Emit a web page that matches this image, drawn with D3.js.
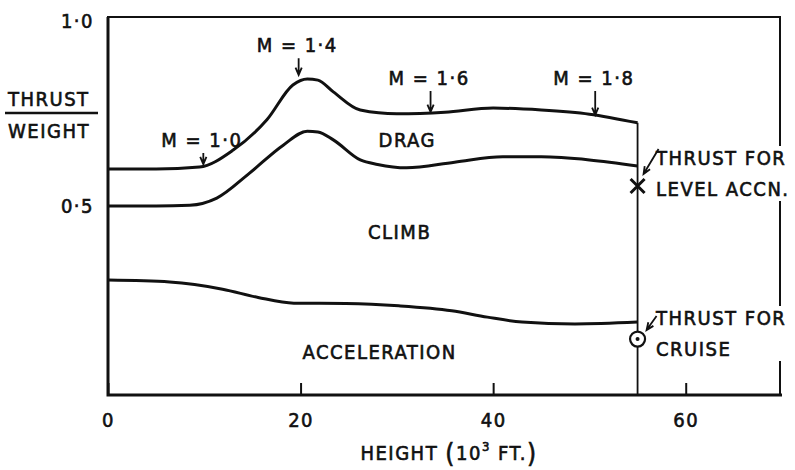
<!DOCTYPE html>
<html>
<head>
<meta charset="utf-8">
<script src="https://cdn.jsdelivr.net/npm/d3@7"></script>
<style>
  body { margin: 0; background: #fff; }
  .lbl { font-family: "DejaVu Sans Condensed", "DejaVu Sans", sans-serif; font-size: 20px; letter-spacing: 1.5px; fill: #111; stroke: #111; stroke-width: 0.6px; }
</style>
</head>
<body>
<svg id="chart"></svg>
<script>
// data (height in 10^3 ft, thrust/weight)
let dragH = [0, 5, 9.5, 13, 16.5, 19.2, 20.7, 21.8, 23.4, 26.2, 30, 35, 40, 45, 50, 55]
let dragT = [0.598, 0.598, 0.603, 0.648, 0.728, 0.820, 0.836, 0.833, 0.802, 0.754, 0.744, 0.748, 0.759, 0.754, 0.743, 0.720]

let climbH = [0, 5, 8.5, 11.3, 14.7, 18.2, 20.7, 21.8, 23.4, 26.2, 28, 31, 36, 41, 45, 50, 55]
let climbT = [0.500, 0.500, 0.502, 0.521, 0.587, 0.661, 0.698, 0.696, 0.675, 0.622, 0.610, 0.601, 0.616, 0.630, 0.630, 0.622, 0.606]

let accelH = [0, 6.4, 11.9, 15.6, 19.3, 24.7, 30.2, 35.7, 39.4, 43, 48.5, 55]
let accelT = [0.304, 0.299, 0.280, 0.258, 0.243, 0.242, 0.236, 0.223, 0.206, 0.193, 0.188, 0.193]

let machLabels = ['M = 1·0', 'M = 1·4', 'M = 1·6', 'M = 1·8']
let machH = [9.9, 19.8, 33.5, 50.6]
let machTip = [0.608, 0.844, 0.746, 0.738]
let machTextT = [0.656, 0.907, 0.820, 0.820]

let xTicks = [0, 20, 40, 60]
let yTicks = [0.5, 1.0]
let regionLabels = ['DRAG', 'CLIMB', 'ACCELERATION']
let regionH = [28.1, 27.0, 20.2]
let regionT = [0.656, 0.413, 0.095]

let ceilingH = 55
let levelAccnT = 0.553
let cruiseT = 0.148

let width = 795
let height = 470

let svg = d3.select('#chart').attr('width', width).attr('height', height)

let xScale = d3.scaleLinear().domain([0, 70]).range([108, 782])
let yScale = d3.scaleLinear().domain([0, 1]).range([395, 17])

let ink = '#111'

// frame
svg.append('rect')
  .attr('x', xScale(0)).attr('y', yScale(1))
  .attr('width', xScale(70) - xScale(0) - 2).attr('height', yScale(0) - yScale(1))
  .attr('fill', 'none').attr('stroke', ink).attr('stroke-width', 2)
svg.append('path')
  .attr('d', `M${xScale(0)},${yScale(1)}V${yScale(0)}H${xScale(70)}`)
  .attr('fill', 'none').attr('stroke', ink).attr('stroke-width', 3)

// axes
let xAxis = d3.axisBottom(xScale).tickValues(xTicks).tickSize(-12).tickPadding(18).tickFormat(d3.format('d'))
let gx = svg.append('g').attr('transform', 'translate(0,' + yScale(0) + ')').call(xAxis)
gx.select('.domain').remove()
gx.selectAll('line').attr('stroke', ink).attr('stroke-width', 2)
gx.selectAll('text').attr('class', 'lbl').attr('font-size', null).attr('font-family', null)

let yAxis = d3.axisLeft(yScale).tickValues(yTicks).tickSize(0).tickPadding(14)
  .tickFormat((d) => d3.format('.1f')(d).replace('.', '·'))
let gy = svg.append('g').attr('transform', 'translate(' + xScale(0) + ',0)').call(yAxis)
gy.select('.domain').remove()
gy.selectAll('text').attr('class', 'lbl').attr('font-size', null).attr('font-family', null)
gy.selectAll('.tick').filter((d) => d == 1).select('text').attr('dy', '0.5em')

// y title
svg.append('text').attr('class', 'lbl').attr('x', 8).attr('y', 106).text('THRUST')
svg.append('line').attr('x1', 5).attr('x2', 98).attr('y1', 113).attr('y2', 113)
  .attr('stroke', ink).attr('stroke-width', 2.5)
svg.append('text').attr('class', 'lbl').attr('x', 8).attr('y', 138).text('WEIGHT')

// x title
let xt = svg.append('text').attr('class', 'lbl').attr('x', 449).attr('y', 460).attr('text-anchor', 'middle')
xt.append('tspan').text('HEIGHT ')
xt.append('tspan').attr('font-size', 26).attr('dy', 2).text('(')
xt.append('tspan').attr('dy', -2).text('10')
xt.append('tspan').attr('font-size', 13).attr('dy', -9).text('3')
xt.append('tspan').attr('dy', 9).text(' FT.')
xt.append('tspan').attr('font-size', 26).attr('dy', 2).text(')')

// curves
let line = d3.line().curve(d3.curveMonotoneX)
  .x((d) => xScale(d[0])).y((d) => yScale(d[1]))

let series = [[dragH, dragT], [climbH, climbT], [accelH, accelT]]
series.forEach(([h, t]) => {
  svg.append('path')
    .datum(h.map((v, i) => [v, t[i]]))
    .attr('d', line)
    .attr('fill', 'none').attr('stroke', ink).attr('stroke-width', 3)
    .attr('stroke-linejoin', 'round')
})

// ceiling line at 55k ft
svg.append('line')
  .attr('x1', xScale(ceilingH)).attr('x2', xScale(ceilingH))
  .attr('y1', yScale(dragT[dragT.length - 1])).attr('y2', yScale(0))
  .attr('stroke', ink).attr('stroke-width', 1.8)

let arrow = (x1, y1, x2, y2, w) => {
  let a = Math.atan2(y2 - y1, x2 - x1)
  let l = 8
  let p1 = [x2 - l * Math.cos(a - 0.4), y2 - l * Math.sin(a - 0.4)]
  let p2 = [x2 - l * Math.cos(a + 0.4), y2 - l * Math.sin(a + 0.4)]
  svg.append('path')
    .attr('d', `M${x1},${y1}L${x2},${y2}M${p1[0]},${p1[1]}L${x2},${y2}L${p2[0]},${p2[1]}`)
    .attr('fill', 'none').attr('stroke', ink).attr('stroke-width', w || 1.8)
}

// mach annotations
machLabels.forEach((m, i) => {
  let x = xScale(machH[i])
  let ty = yScale(machTextT[i])
  svg.append('text').attr('class', 'lbl').attr('x', x - 42).attr('y', ty).text(m)
  arrow(x, ty + 6, x, yScale(machTip[i]) - 1)
})

// region labels
regionLabels.forEach((r, i) => {
  svg.append('text').attr('class', 'lbl')
    .attr('x', xScale(regionH[i])).attr('y', yScale(regionT[i])).text(r)
})

// right-hand notes, with white backing to break the frame
let note = (lines, x, y) => {
  let g = svg.append('g')
  let bg = g.append('rect').attr('fill', '#fff')
  lines.forEach((s, i) => {
    g.append('text').attr('class', 'lbl').attr('x', x).attr('y', y + i * 31).text(s)
  })
  let bb = g.node().getBBox()
  bg.attr('x', bb.x - 2).attr('y', bb.y).attr('width', bb.width + 6).attr('height', bb.height)
}
note(['THRUST FOR', 'LEVEL ACCN.'], 656, 165)
note(['THRUST FOR', 'CRUISE'], 656, 325)

// markers
let cx = xScale(ceilingH)
let ly = yScale(levelAccnT)
svg.append('path')
  .attr('d', `M${cx - 7},${ly - 7}L${cx + 7},${ly + 7}M${cx - 7},${ly + 7}L${cx + 7},${ly - 7}`)
  .attr('stroke', ink).attr('stroke-width', 3)
arrow(cx + 21, ly - 37, cx + 6, ly - 12)

let cy = yScale(cruiseT)
svg.append('circle').attr('cx', cx).attr('cy', cy).attr('r', 7.5)
  .attr('fill', '#fff').attr('stroke', ink).attr('stroke-width', 2.2)
svg.append('circle').attr('cx', cx).attr('cy', cy).attr('r', 2).attr('fill', ink)
arrow(cx + 19, cy - 23, cx + 9, cy - 9)
</script>
</body>
</html>
